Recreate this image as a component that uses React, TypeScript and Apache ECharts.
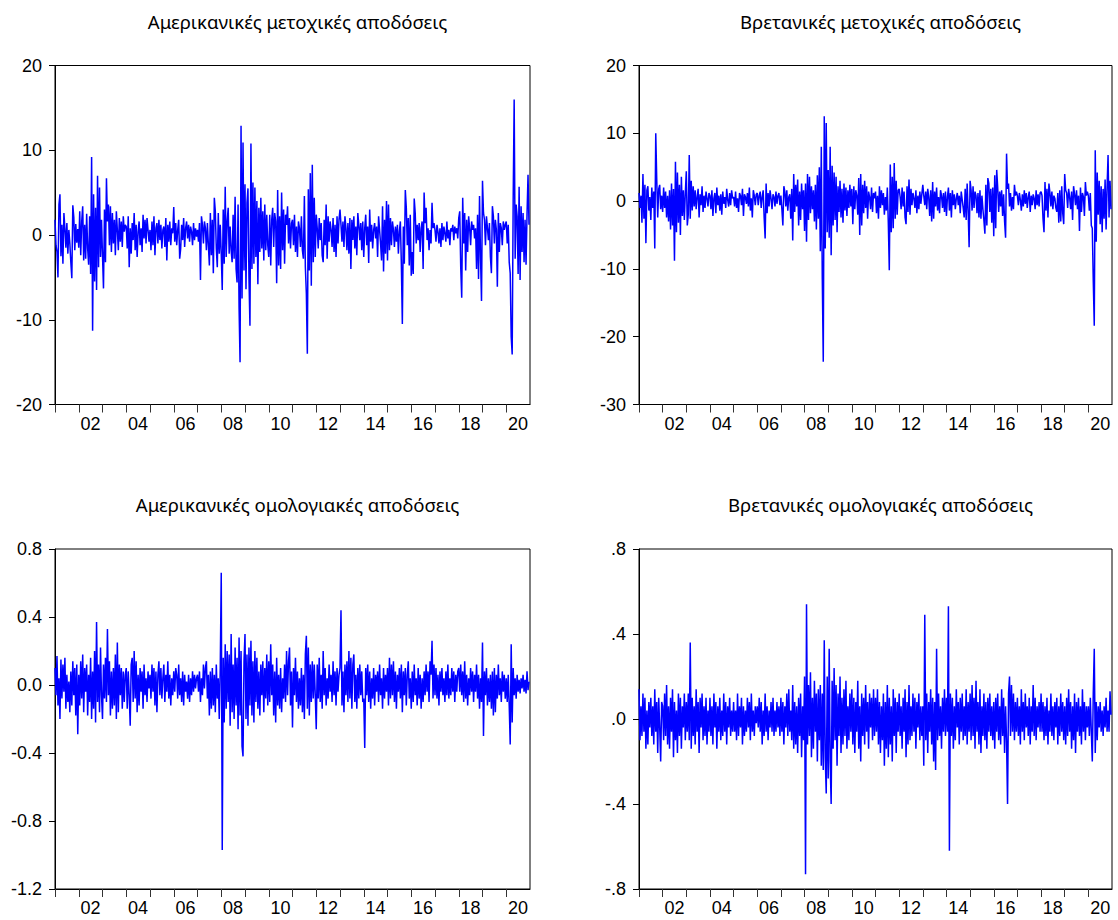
import React, { useEffect, useRef } from "react";
import * as echarts from "echarts";

// ---- Data: weekly-style returns sampled 24 times per year, 2001–2020 ----
const START_YEAR = 2001;
const POINTS_PER_YEAR = 24;

const titles = [
  "Αμερικανικές μετοχικές αποδόσεις",
  "Βρετανικές μετοχικές αποδόσεις",
  "Αμερικανικές ομολογιακές αποδόσεις",
  "Βρετανικές ομολογιακές αποδόσεις",
];

const xTickYears = [2001, 2002, 2003, 2004, 2005, 2006, 2007, 2008, 2009, 2010, 2011, 2012, 2013, 2014, 2015, 2016, 2017, 2018, 2019, 2020];
const xLabelYears = [2002, 2004, 2006, 2008, 2010, 2012, 2014, 2016, 2018, 2020];

// US stock returns
const usStock = [
  1.8, -1.2, -2.0, -5.0, 3.6, 4.8, -2.5, 1.2, -3.4, 2.6, 0.8, -1.5, 1.4, -2.2, 0.6, -1.0, -3.2, -5.1, 3.5, 2.1, -1.8, 1.3, -0.9, 0.7,
  -1.5, 2.8, -2.4, 1.6, 3.4, -3.0, 1.2, -2.8, 2.5, -1.6, -3.5, 2.2, -4.6, 9.2, -11.3, 4.8, -5.5, 3.2, -6.5, 7.0, -3.8, 5.6, -2.6, 1.8,
  -2.4, -6.3, 3.0, -3.2, 6.7, 1.6, 3.6, -1.2, 3.4, -2.0, 2.6, -1.0, 1.8, -2.4, 2.8, 0.6, -1.8, 2.0, -0.8, 1.6, -1.4, 2.2, 0.4, 1.2,
  1.0, -1.6, 2.2, -3.8, 0.8, -2.2, 1.4, -0.6, 2.6, -1.8, 1.2, -2.6, 0.4, 1.6, -1.2, 0.8, -2.0, 2.4, -0.4, 1.8, -1.0, 2.0, 0.6, -0.8,
  0.6, -1.8, 1.6, -1.2, 2.2, -2.4, 0.8, 1.4, -1.0, 1.8, -0.6, 1.2, -1.6, 0.6, 1.0, -1.4, 2.0, -3.0, 1.2, -0.8, 1.6, -1.2, 0.8, 0.2,
  3.3, -0.8, 1.4, -1.2, 0.6, 1.8, -2.8, -1.6, 1.2, -0.6, 2.0, -1.4, 0.8, 1.6, -0.4, 1.2, -0.8, 1.0, 0.4, -1.2, 1.4, -0.6, 0.8, -0.2,
  0.6, -0.8, 1.4, -5.3, 2.2, 1.2, -1.0, 1.6, 0.8, -1.8, 1.4, -1.2, -3.6, 2.6, -2.4, 1.8, -4.5, 4.4, 2.8, -1.6, -3.8, 2.6, -2.2, 1.2,
  -2.2, -6.5, 3.0, -3.4, 5.7, -2.6, 1.6, 3.2, -2.2, 1.0, -1.8, -3.2, 2.4, -2.8, 4.5, -4.0, -5.6, 3.6, -8.5, -15.0, 12.9, -7.5, 10.9, -4.2,
  6.0, -6.4, 3.8, 5.5, -5.0, -10.7, 10.8, -4.0, 6.2, -3.4, 5.6, -2.6, 4.0, -5.8, 3.2, -2.0, 4.4, -1.6, 2.8, -3.0, 3.6, -1.8, 2.4, -1.2,
  -2.6, 2.4, -3.6, 1.8, 3.2, -1.4, 2.6, 1.6, -5.7, 5.3, -3.6, 2.2, -4.0, 5.0, -1.8, 3.0, -3.4, 2.4, 1.2, 3.4, -1.0, 2.0, -1.6, 1.4,
  1.8, -1.2, 2.4, -2.0, 1.0, -2.6, 1.6, 0.8, -1.4, 2.2, -1.8, -2.8, 4.6, -3.8, -6.9, -14.0, 5.4, -4.2, 7.3, -6.0, 8.3, -3.2, 4.4, -2.6,
  2.4, 0.8, -1.6, 2.0, -0.6, 1.4, -2.4, -3.2, 1.8, -1.2, 3.6, -2.8, 2.2, -0.8, 1.6, 0.6, -1.4, 2.0, -2.0, 1.2, -2.6, 2.2, -1.0, 1.8,
  3.0, 1.2, -0.8, 1.6, -1.4, 2.2, 0.8, -1.8, 1.4, -2.2, 2.0, -4.0, 1.8, -0.6, 2.2, -1.6, 1.0, -2.4, 2.6, 1.2, -0.6, 1.4, -1.8, 1.6,
  -2.6, 0.8, 2.4, -1.2, 1.0, -3.3, 3.0, -0.8, 1.2, -1.6, 0.6, 1.4, -0.4, 1.0, -2.6, 2.2, 0.6, -1.0, -3.0, 3.4, -4.3, 1.8, -2.2, 4.0,
  -3.0, 3.6, -1.8, 2.0, -1.2, 1.6, 0.6, -1.4, 1.0, -0.8, 1.2, -2.2, 0.4, 1.6, -3.4, -10.5, 1.0, -3.4, 5.3, 3.2, -1.2, 2.0, -3.6, 2.4,
  -4.8, -2.0, -4.6, 4.3, 2.6, -1.0, 1.2, -0.6, 1.4, -2.0, 0.8, 1.6, -4.0, 5.0, 1.4, 3.2, -0.6, 0.8, -1.8, 0.6, -1.0, 3.8, 0.8, 1.4,
  0.6, -0.8, 1.2, 0.4, -1.0, 0.8, -1.4, 1.4, -0.6, 1.0, 0.2, -0.8, 1.6, -0.4, 0.6, -1.2, 0.8, 0.4, 1.2, -0.6, 1.0, 0.2, 0.8, -0.4,
  2.0, 2.8, -3.8, -7.4, 4.4, -1.0, 2.6, -4.2, 1.8, -2.0, 2.2, 0.8, -1.2, 1.6, 0.6, 1.2, -0.4, 0.8, -4.0, 2.4, -5.2, 4.6, -2.6, -7.8,
  6.4, 2.6, 1.8, -1.2, 2.2, 0.8, -0.6, 1.4, -2.6, -4.5, 3.4, 2.2, -1.0, 1.8, 0.6, -6.1, 2.6, -2.0, 1.4, 0.8, -1.2, 1.6, 0.6, 1.2,
  1.6, -1.0, 1.2, -3.2, -4.5, -12.0, -14.1, 4.0, 16.0, -2.8, 3.6, 2.2, -4.6, 5.7, -5.3, 3.4, -2.0, 2.6, -3.2, 1.8, -3.5, 2.4, 7.1, 1.2,
];

// UK stock returns
const ukStock = [
  1.2, -1.0, 0.8, -3.2, 4.0, -2.6, 2.4, -6.2, 1.6, 2.2, -1.4, 0.6, -2.8, 2.0, -1.0, 1.4, -7.0, 10.0, 3.2, -2.4, 1.8, 2.4, -1.2, 0.8,
  -1.6, 2.0, -1.0, 1.4, -2.4, 0.8, -3.0, 1.6, -4.2, 2.6, -3.6, 1.8, -8.8, 5.8, -4.6, 4.2, -3.2, 2.4, -5.0, 3.6, -2.2, 1.6, -2.8, 1.2,
  4.4, -3.6, -2.0, 6.8, -2.6, 3.0, -1.4, 2.2, -0.8, 1.6, -1.2, 0.6, 1.8, -2.4, 1.0, -0.6, 2.2, -1.6, 0.8, -1.0, 1.4, 0.4, -0.8, 1.2,
  0.8, -1.2, 1.6, -2.2, 0.4, 1.2, -1.8, 2.0, -0.6, 0.8, -1.4, 1.0, -2.0, 1.4, -0.4, 0.6, -1.0, 1.8, 0.2, -0.8, 1.2, -0.6, 1.6, 0.4,
  0.6, -0.8, 1.4, -1.0, 0.4, -1.6, 1.2, 0.8, -0.6, 1.8, -2.2, 1.0, 0.6, -0.4, 1.2, -0.8, 2.0, -1.4, 0.4, -2.4, 1.6, 0.8, -0.6, 1.0,
  1.2, -0.6, 0.8, 1.4, -1.0, 0.6, 1.6, -2.4, -5.5, 2.6, -1.8, 1.2, -0.8, 1.6, 0.4, -1.2, 1.0, 0.6, -0.8, 1.4, -0.4, 0.8, 1.2, -0.6,
  0.8, -1.2, -3.6, 2.2, 1.4, -0.8, 1.6, -1.4, 0.6, 1.0, -2.6, 1.8, -5.8, 4.0, -1.6, 2.4, -0.8, 3.2, -3.6, 1.4, -2.8, 2.6, -1.2, 1.6,
  -4.4, 2.6, -6.0, 4.0, -2.8, 3.6, -1.8, 2.2, -1.2, 1.6, -3.0, 2.4, -4.2, 3.8, -2.6, 5.0, -7.4, 8.0, -11.4, -23.7, 12.5, -7.0, 11.5, -4.6,
  4.6, -5.4, 8.0, -8.0, 5.2, -3.6, 4.2, -2.8, 3.6, -4.6, 2.2, -1.6, 3.0, -2.4, 1.8, -3.2, 2.6, -1.4, 2.0, -2.2, 1.6, -1.0, 2.4, -0.8,
  1.8, -3.4, 2.2, -1.2, 1.6, 0.8, -2.0, 3.4, -5.0, 4.0, -3.6, 2.4, -1.8, 3.0, -1.0, 2.2, -2.6, 1.4, 0.6, -1.2, 2.0, -1.6, 1.2, 0.4,
  1.4, -1.8, 0.8, -2.6, 2.2, -1.0, 1.6, -0.6, 1.2, -2.0, 0.6, -1.4, 2.0, -3.2, -10.2, 5.4, -4.6, 3.6, -4.0, 5.6, -2.6, 3.0, -2.0, 1.6,
  1.8, 0.6, -1.2, 2.0, -0.8, 1.4, -2.4, -3.4, 2.2, -1.6, 3.2, -2.0, 1.8, -0.6, 1.2, 0.4, -1.0, 1.6, -1.8, 0.8, -1.2, 1.4, -0.4, 1.0,
  2.4, 0.8, -0.6, 1.4, -1.2, 1.8, 0.6, -2.2, 1.6, -3.0, 2.8, -2.6, 1.4, -0.8, 2.0, -1.4, 0.6, -1.8, 1.6, 0.8, -1.0, 1.2, -1.6, 1.4,
  -2.2, 0.6, 2.0, -1.4, 1.2, -2.4, 1.6, -0.6, 1.0, -1.2, 0.4, 1.2, -0.6, 0.8, -1.8, 1.4, 0.2, -1.0, -2.4, 1.8, -2.8, 2.6, -1.4, -6.8,
  3.0, 1.6, -1.4, 2.2, -1.0, 1.4, 0.8, -1.8, 1.2, -2.4, 1.6, -2.6, 0.8, -1.2, -2.8, -4.8, 2.4, -3.6, 3.4, 2.6, -1.6, 1.8, -3.2, 2.0,
  -5.2, 3.8, -4.0, 4.6, 2.0, -1.6, 1.4, -0.8, 1.6, -2.2, 1.0, -3.0, -5.4, 7.0, 1.8, 2.6, -0.8, 1.2, -1.4, 0.6, -1.2, 2.4, 0.8, 1.4,
  0.8, -0.6, 1.2, 0.2, -1.4, 1.0, -0.8, 1.6, -0.4, 1.2, -1.0, 0.6, 1.4, -1.6, 0.8, -0.6, 1.0, 0.4, -1.2, 1.6, -0.6, 1.0, -0.8, 1.2,
  1.4, 0.8, -2.6, -4.6, 2.8, -1.4, 1.8, -2.4, 2.6, 1.2, -0.8, 1.4, -1.2, 0.8, 0.4, -1.0, -1.6, 1.2, -3.2, 1.6, -3.0, 2.2, -1.8, -3.4,
  4.0, 1.6, 1.2, -1.0, 1.8, 0.6, -1.2, 1.4, -2.8, 2.2, 1.0, -0.6, 1.6, -1.2, 0.8, -4.4, 2.0, -1.6, 1.2, 0.6, -2.2, 2.8, 0.8, 1.4,
  0.8, -1.4, 1.2, -3.6, -4.0, -11.8, -18.4, 7.5, -6.0, 4.2, -2.0, 3.0, -3.4, 2.2, -4.6, 1.8, -2.6, 3.2, -4.2, 2.0, 6.8, -2.4, 3.0, -1.2,
];

// US bond returns
const usBond = [
  0.10, -0.06, 0.17, -0.12, 0.04, -0.20, 0.15, -0.08, 0.12, -0.04, 0.16, -0.14, 0.06, -0.10, 0.02, -0.16, 0.08, -0.12, 0.14, -0.06, 0.10, -0.18, 0.12, -0.29,
  0.06, -0.12, 0.14, -0.08, 0.18, -0.16, 0.10, -0.04, 0.12, -0.18, 0.06, -0.10, 0.16, -0.20, 0.08, -0.14, 0.20, -0.22, 0.37, -0.10, 0.12, -0.16, 0.22, -0.06,
  -0.20, 0.12, -0.08, 0.16, -0.10, 0.33, -0.06, 0.14, -0.18, 0.08, -0.14, 0.10, -0.12, 0.18, -0.20, 0.25, -0.16, 0.12, -0.06, 0.10, -0.14, 0.08, -0.10, 0.06,
  0.10, -0.14, 0.08, -0.06, -0.24, 0.12, 0.16, -0.10, 0.20, -0.08, 0.14, -0.16, 0.06, -0.12, 0.10, -0.04, 0.08, -0.14, 0.12, -0.06, 0.04, -0.10, 0.08, -0.02,
  0.06, -0.08, 0.12, -0.04, 0.10, -0.12, 0.08, -0.16, 0.06, 0.14, -0.06, 0.10, -0.08, 0.04, 0.12, -0.10, 0.06, -0.04, 0.14, -0.08, 0.06, -0.12, 0.04, -0.06,
  0.08, -0.04, 0.10, 0.06, -0.08, 0.12, -0.06, 0.04, -0.10, 0.08, -0.12, 0.06, -0.04, 0.02, -0.08, 0.06, -0.10, 0.04, -0.06, 0.08, -0.04, 0.06, -0.02, 0.04,
  0.06, -0.04, 0.08, -0.10, 0.04, -0.06, 0.12, -0.02, 0.10, 0.14, -0.08, 0.06, -0.18, 0.08, -0.14, 0.10, -0.12, 0.06, -0.16, 0.12, -0.08, 0.04, -0.20, 0.10,
  0.66, -0.97, 0.16, -0.22, 0.24, -0.14, 0.20, -0.10, 0.18, -0.24, 0.30, -0.16, 0.12, -0.20, 0.22, -0.12, 0.16, -0.26, 0.28, -0.18, 0.20, -0.36, -0.42, 0.14,
  0.30, -0.20, 0.18, -0.24, 0.22, -0.12, 0.26, -0.18, 0.14, -0.22, 0.20, -0.10, 0.16, -0.14, 0.08, -0.18, 0.12, -0.06, 0.14, -0.16, 0.10, -0.08, 0.18, -0.12,
  0.14, -0.10, 0.24, -0.06, 0.12, -0.18, 0.08, -0.22, 0.16, -0.12, 0.06, -0.14, 0.10, -0.16, 0.04, -0.08, 0.12, -0.10, 0.20, -0.06, 0.14, 0.22, -0.12, 0.08,
  -0.25, 0.10, -0.06, 0.16, -0.10, 0.08, -0.14, 0.04, -0.12, 0.10, -0.16, 0.06, -0.20, 0.18, 0.29, -0.14, 0.22, -0.18, 0.12, -0.10, 0.14, -0.08, 0.12, -0.06,
  -0.26, 0.12, -0.08, 0.16, -0.10, 0.06, -0.14, 0.20, -0.06, 0.10, -0.12, 0.04, -0.08, 0.12, -0.04, 0.06, -0.10, 0.14, -0.06, 0.08, -0.12, 0.10, -0.04, 0.06,
  0.10, 0.44, -0.12, 0.08, -0.16, 0.12, -0.06, 0.14, -0.10, 0.20, -0.08, 0.16, -0.14, 0.12, 0.18, -0.10, 0.06, -0.14, 0.10, -0.08, 0.12, -0.06, 0.08, -0.10,
  -0.08, -0.37, 0.10, -0.06, 0.12, -0.10, 0.08, -0.14, 0.04, -0.08, 0.10, -0.12, 0.06, -0.04, 0.08, -0.10, 0.12, -0.06, 0.04, -0.14, 0.10, -0.08, 0.06, -0.04,
  0.10, -0.12, 0.16, -0.08, 0.12, -0.06, 0.14, -0.10, 0.08, -0.14, 0.06, -0.04, 0.10, -0.08, 0.12, -0.16, 0.08, -0.06, 0.10, -0.12, 0.06, 0.14, -0.08, 0.04,
  -0.14, 0.08, -0.10, 0.12, -0.06, 0.04, -0.12, 0.10, -0.08, 0.06, -0.14, 0.04, -0.10, 0.08, -0.06, 0.12, -0.04, 0.08, -0.10, 0.14, 0.06, 0.26, -0.08, 0.12,
  -0.06, 0.10, -0.08, 0.06, -0.12, 0.08, -0.04, 0.10, -0.06, 0.04, -0.10, 0.08, -0.06, 0.12, -0.08, 0.04, -0.06, 0.10, -0.04, 0.08, -0.10, 0.06, -0.04, 0.08,
  0.10, -0.04, 0.12, -0.06, 0.08, -0.10, 0.14, -0.08, 0.06, -0.12, 0.04, -0.06, 0.10, -0.04, 0.08, -0.10, 0.06, -0.04, 0.12, -0.08, 0.06, -0.14, 0.04, -0.10,
  0.25, -0.30, 0.08, -0.06, 0.10, -0.12, 0.04, -0.10, 0.06, -0.14, 0.08, -0.18, 0.10, -0.16, 0.06, -0.08, 0.12, -0.06, 0.04, -0.10, 0.08, -0.04, 0.06, -0.08,
  0.04, -0.10, 0.06, -0.12, -0.35, 0.24, -0.22, 0.10, -0.06, 0.04, -0.08, 0.06, -0.04, 0.03, -0.05, 0.04, -0.02, 0.06, -0.04, 0.03, -0.05, 0.08, -0.03, 0.02,
];

// UK bond returns
const ukBond = [
  0.14, -0.10, 0.06, -0.08, 0.12, -0.06, 0.10, -0.14, 0.04, -0.12, 0.08, -0.04, 0.10, -0.08, 0.06, -0.12, 0.14, -0.06, 0.08, -0.16, 0.10, -0.04, -0.20, 0.08,
  0.06, -0.10, 0.12, -0.08, 0.16, -0.12, 0.06, -0.14, 0.10, -0.06, 0.14, -0.18, 0.08, -0.10, 0.04, -0.16, 0.12, -0.08, 0.10, -0.14, 0.06, -0.04, 0.12, -0.10,
  0.08, -0.06, 0.12, -0.10, 0.36, -0.14, 0.10, -0.08, 0.06, -0.12, 0.14, -0.06, 0.08, -0.16, 0.10, -0.04, 0.12, -0.10, 0.06, -0.08, 0.10, -0.12, 0.04, -0.06,
  0.10, -0.08, 0.06, -0.12, 0.12, -0.04, 0.08, -0.14, 0.06, -0.06, 0.10, -0.10, 0.04, -0.08, 0.12, -0.06, 0.08, -0.12, 0.06, -0.04, 0.10, -0.08, 0.04, -0.06,
  0.08, -0.06, 0.04, -0.10, 0.12, -0.08, 0.06, -0.04, 0.10, -0.12, 0.06, -0.08, 0.04, -0.06, 0.10, -0.04, 0.08, -0.10, 0.12, -0.06, 0.04, -0.08, 0.06, -0.02,
  0.06, -0.04, 0.10, -0.06, 0.08, -0.12, 0.04, -0.08, 0.12, -0.06, 0.06, -0.10, 0.04, -0.04, 0.08, -0.06, 0.10, -0.08, 0.04, -0.06, 0.08, -0.04, 0.06, -0.08,
  0.10, -0.06, 0.08, -0.12, 0.06, -0.04, 0.12, -0.08, 0.14, -0.06, 0.04, -0.10, 0.16, -0.14, 0.08, -0.12, 0.06, -0.16, 0.10, -0.08, 0.12, -0.18, 0.06, -0.10,
  0.20, -0.73, 0.54, -0.12, 0.16, -0.08, 0.22, -0.18, 0.10, -0.14, 0.18, -0.06, 0.12, -0.20, 0.14, -0.10, 0.16, -0.22, 0.12, -0.24, 0.37, -0.18, -0.35, 0.20,
  -0.28, 0.33, -0.20, -0.40, 0.18, -0.14, 0.24, -0.10, 0.16, -0.22, 0.12, -0.08, 0.20, -0.16, 0.10, -0.12, 0.14, -0.08, 0.18, -0.14, 0.06, -0.10, 0.12, -0.06,
  0.14, -0.12, 0.10, -0.16, 0.08, -0.06, 0.18, -0.14, 0.06, -0.20, 0.12, -0.08, 0.10, -0.12, 0.16, -0.06, 0.08, -0.14, 0.12, -0.04, 0.10, -0.10, 0.14, -0.08,
  0.10, -0.06, 0.14, -0.12, 0.08, -0.16, 0.06, -0.10, 0.12, -0.22, 0.08, -0.14, 0.16, -0.18, 0.10, -0.12, 0.06, -0.20, 0.14, -0.08, 0.10, -0.16, 0.08, -0.06,
  0.12, -0.08, 0.06, -0.14, 0.10, -0.06, 0.14, -0.18, 0.08, -0.12, 0.16, -0.10, 0.06, -0.08, 0.12, -0.06, 0.10, -0.14, 0.08, -0.04, 0.12, -0.10, 0.06, -0.08,
  0.06, -0.22, 0.49, -0.10, 0.12, -0.16, 0.08, -0.06, 0.14, -0.12, 0.10, -0.20, 0.08, -0.24, 0.33, -0.10, 0.12, -0.08, 0.06, -0.14, 0.10, -0.06, 0.14, -0.08,
  0.10, -0.06, 0.53, -0.62, 0.12, -0.08, 0.10, -0.14, 0.06, -0.10, 0.14, -0.04, 0.08, -0.12, 0.10, -0.06, 0.12, -0.10, 0.06, -0.08, 0.14, -0.12, 0.08, -0.06,
  0.12, -0.10, 0.16, -0.08, 0.10, -0.14, 0.18, -0.06, 0.08, -0.12, 0.14, -0.16, 0.06, -0.08, 0.12, -0.10, 0.08, -0.14, 0.10, -0.06, 0.12, -0.08, 0.06, -0.10,
  0.08, -0.14, 0.10, -0.06, 0.12, -0.10, 0.06, -0.12, 0.14, -0.08, 0.10, -0.16, 0.06, -0.10, -0.40, 0.12, 0.20, -0.08, 0.16, -0.06, 0.12, -0.10, 0.08, -0.06,
  0.10, -0.08, 0.06, -0.12, 0.14, -0.06, 0.08, -0.10, 0.12, -0.04, 0.06, -0.08, 0.10, -0.12, 0.06, -0.06, 0.16, -0.08, 0.10, -0.10, 0.06, -0.04, 0.08, -0.06,
  0.12, -0.06, 0.08, -0.10, 0.06, -0.08, 0.10, -0.12, 0.04, -0.06, 0.12, -0.08, 0.06, -0.10, 0.08, -0.04, 0.10, -0.12, 0.06, -0.08, 0.12, -0.06, 0.08, -0.10,
  0.06, -0.12, 0.10, -0.08, 0.14, -0.06, 0.08, -0.14, 0.06, -0.10, 0.12, -0.16, 0.08, -0.06, 0.10, -0.08, 0.06, -0.12, 0.14, -0.06, 0.08, -0.10, 0.06, -0.04,
  0.06, -0.08, 0.10, -0.06, -0.20, 0.12, 0.33, -0.16, 0.08, -0.10, 0.06, -0.04, 0.08, -0.06, 0.04, -0.08, 0.06, -0.04, 0.10, -0.06, 0.04, -0.06, 0.13, 0.02,
];

const yMins = [-20, -30, -1.2, -0.8];
const yMaxs = [20, 20, 0.8, 0.8];
const yIntervals = [10, 10, 0.4, 0.4];

const LABEL_FONT = "'Liberation Sans', Arial, sans-serif";
const TITLE_FONT = "'Noto Sans', 'Open Sans', sans-serif";

const grids = [
  { left: 55, top: 65.5, width: 475, height: 339 },
  { left: 639, top: 65.5, width: 473, height: 339 },
  { left: 55, top: 549, width: 475, height: 340 },
  { left: 639, top: 549, width: 473, height: 340 },
];

function fmtY(idx: number, v: number): string {
  if (Math.abs(v) < 1e-9) v = 0;
  if (idx < 2) return String(Math.round(v));
  const s = v.toFixed(1);
  if (idx === 3) return s.replace(/^(-?)0\./, "$1.");
  return s;
}

export default function App() {
  const ref = useRef<HTMLDivElement>(null);

  useEffect(() => {
    document.body.style.margin = "0";
    if (!ref.current) return;
    const chart = echarts.init(ref.current, undefined, { renderer: "svg" });
    const seriesValues = [usStock, ukStock, usBond, ukBond];

    const option: any = {
      animation: false,
      backgroundColor: "#fff",
      title: titles.map((t, i) => ({
        text: t,
        left: grids[i].left + grids[i].width / 2,
        top: grids[i].top - 59,
        textAlign: "center",
        textStyle: { fontFamily: TITLE_FONT, fontSize: 18.6, fontWeight: "normal", color: "#000" },
      })),
      grid: grids.map((g) => ({ ...g, show: true, borderColor: "#000", borderWidth: 1, backgroundColor: "transparent" })),
      xAxis: grids.map((_, i) => ({
        type: "value",
        gridIndex: i,
        min: START_YEAR,
        max: 2021,
        position: "bottom",
        splitLine: { show: false },
        axisLine: { show: true, onZero: false, lineStyle: { color: "#000", width: 1 } },
        axisTick: {
          show: true,
          length: 8,
          customValues: xTickYears,
          lineStyle: { color: "#333", width: 1 },
        },
        axisLabel: {
          show: true,
          customValues: xLabelYears.map((y) => y + 0.5),
          formatter: (v: number) => String(Math.floor(v)).slice(2),
          fontFamily: LABEL_FONT,
          fontSize: 18,
          color: "#000",
          margin: 10,
        },
      })),
      yAxis: grids.map((_, i) => ({
        type: "value",
        gridIndex: i,
        min: yMins[i],
        max: yMaxs[i],
        interval: yIntervals[i],
        splitLine: { show: false },
        axisLine: { show: true, onZero: false, lineStyle: { color: "#000", width: 1 } },
        axisTick: { show: true, length: 6, lineStyle: { color: "#000", width: 1 } },
        axisLabel: {
          formatter: (v: number) => fmtY(i, v),
          fontFamily: LABEL_FONT,
          fontSize: 18,
          color: "#000",
          margin: 13,
        },
      })),
      series: seriesValues.map((vals, i) => ({
        type: "line",
        xAxisIndex: i,
        yAxisIndex: i,
        showSymbol: false,
        symbol: "none",
        lineStyle: { color: "#0000FF", width: 1.5 },
        data: vals.map((v, k) => [START_YEAR + k / POINTS_PER_YEAR, v]),
      })),
    };

    chart.setOption(option);
    return () => chart.dispose();
  }, []);

  return <div ref={ref} style={{ width: 1118, height: 920 }} />;
}
